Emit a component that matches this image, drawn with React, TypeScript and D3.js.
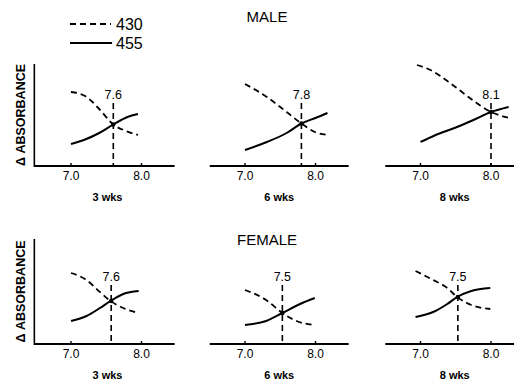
import React from 'react';
import * as d3 from 'd3';

const rowTitles = ['MALE', 'FEMALE'];
const ageLabels = ['3 wks', '6 wks', '8 wks'];
const seriesNames = ['430', '455'];
const tickValues = [7.0, 8.0];
const tickLabels = ['7.0', '8.0'];
const yAxisLabel = 'Δ ABSORBANCE';

// [pH, Δ absorbance (arbitrary units)]
const male3_430 = [[7.0, 0.74], [7.2, 0.70], [7.4, 0.57], [7.6, 0.415], [7.78, 0.35], [7.95, 0.31]];
const male3_455 = [[7.0, 0.22], [7.2, 0.265], [7.4, 0.33], [7.6, 0.415], [7.8, 0.49], [7.95, 0.52]];
const male6_430 = [[7.0, 0.82], [7.31, 0.69], [7.59, 0.54], [7.8, 0.425], [7.99, 0.34], [8.17, 0.31]];
const male6_455 = [[7.0, 0.16], [7.31, 0.24], [7.59, 0.33], [7.8, 0.425], [8.0, 0.48], [8.17, 0.53]];
const male8_430 = [[6.95, 1.01], [7.14, 0.96], [7.42, 0.83], [7.7, 0.68], [8.0, 0.54], [8.27, 0.48]];
const male8_455 = [[7.0, 0.24], [7.2, 0.305], [7.5, 0.385], [7.75, 0.46], [8.0, 0.54], [8.25, 0.59]];
const female3_430 = [[7.0, 0.71], [7.22, 0.64], [7.41, 0.52], [7.56, 0.43], [7.74, 0.36], [7.96, 0.31]];
const female3_455 = [[7.0, 0.23], [7.22, 0.28], [7.41, 0.36], [7.56, 0.43], [7.74, 0.50], [7.96, 0.53]];
const female6_430 = [[7.0, 0.54], [7.3, 0.44], [7.53, 0.31], [7.73, 0.23], [7.97, 0.19]];
const female6_455 = [[7.0, 0.19], [7.3, 0.23], [7.53, 0.31], [7.78, 0.40], [7.99, 0.46]];
const female8_430 = [[6.93, 0.73], [7.18, 0.64], [7.38, 0.56], [7.52, 0.47], [7.72, 0.39], [7.99, 0.35]];
const female8_455 = [[6.93, 0.27], [7.18, 0.32], [7.38, 0.40], [7.52, 0.47], [7.72, 0.53], [7.99, 0.56]];

const curves430 = [[male3_430, male6_430, male8_430], [female3_430, female6_430, female8_430]];
const curves455 = [[male3_455, male6_455, male8_455], [female3_455, female6_455, female8_455]];
const crossPH = [[7.6, 7.8, 8.0], [7.57, 7.53, 7.53]];
const crossValue = [[0.415, 0.425, 0.54], [0.43, 0.31, 0.47]];
const crossLabels = [['7.6', '7.8', '8.1'], ['7.6', '7.5', '7.5']];

const W = 514;
const H = 381;
const rowAxisY = [166, 344];
const rowAxisTop = [64, 239];
const rowTitleY = [22, 245];
const rowLabelOffset = [67, 63];
const panelX7 = [71, 245, 420.5];
const pxPerUnit = 70.5;
const pxPerAbs = 100;
const font = '"Liberation Sans", Arial, Helvetica, sans-serif';
const dash = '6,4';

export default function App() {
  const line = (xs: d3.ScaleLinear<number, number>, ys: d3.ScaleLinear<number, number>) =>
    d3.line<number[]>().x(d => xs(d[0])).y(d => ys(d[1])).curve(d3.curveMonotoneX);

  const panels: React.ReactNode[] = [];
  rowTitles.forEach((title, r) => {
    const axisY = rowAxisY[r];
    const ys = d3.scaleLinear().domain([0, 1]).range([axisY, axisY - pxPerAbs]);
    ageLabels.forEach((age, c) => {
      const x7 = panelX7[c];
      const xs = d3.scaleLinear().domain([7.0, 8.0]).range([x7, x7 + pxPerUnit]);
      const gen = line(xs, ys);
      const axisStart = c === 0 ? xs(6.48) : xs(6.5);
      const axisEnd = xs(8.47);
      const cx = xs(crossPH[r][c]);
      const labelY = axisY - rowLabelOffset[r];
      panels.push(
        <g key={`${r}-${c}`}>
          <line x1={axisStart} x2={axisEnd} y1={axisY} y2={axisY} stroke="#000" strokeWidth={2} />
          {c === 0 && (
            <line x1={axisStart} x2={axisStart} y1={rowAxisTop[r]} y2={axisY + 1} stroke="#000" strokeWidth={1.6} />
          )}
          {tickValues.map((t, i) => (
            <g key={i}>
              <line x1={xs(t)} x2={xs(t)} y1={axisY} y2={axisY - 3} stroke="#000" strokeWidth={1.4} />
              <text x={xs(t)} y={axisY + 14} textAnchor="middle" fontSize={12} fontFamily={font} fill="#000">
                {tickLabels[i]}
              </text>
            </g>
          ))}
          <text x={(axisStart + xs(8.47)) / 2 + (c === 0 ? 3 : 0)} y={axisY + 35} textAnchor="middle" fontSize={11} fontWeight="bold" fontFamily={font} fill="#000">
            {age}
          </text>
          <path d={gen(curves430[r][c] as number[][]) || ''} fill="none" stroke="#000" strokeWidth={1.8} strokeDasharray={dash} />
          <path d={gen(curves455[r][c] as number[][]) || ''} fill="none" stroke="#000" strokeWidth={2} />
          <line x1={cx} x2={cx} y1={labelY + 4} y2={axisY} stroke="#000" strokeWidth={1.6} strokeDasharray={dash} />
          <circle cx={cx} cy={ys(crossValue[r][c])} r={2.2} fill="#000" />
          <text x={cx} y={labelY} textAnchor="middle" fontSize={12.5} fontFamily={font} fill="#000">
            {crossLabels[r][c]}
          </text>
        </g>
      );
    });
  });

  return (
    <svg width={W} height={H} style={{ position: 'absolute', left: 0, top: 0, background: '#fff' }}>
      <rect width={W} height={H} fill="#fff" />
      {/* legend */}
      <line x1={70} x2={111} y1={24} y2={24} stroke="#000" strokeWidth={1.8} strokeDasharray={dash} />
      <text x={116} y={30} fontSize={16} fontFamily={font} fill="#000">{seriesNames[0]}</text>
      <line x1={70} x2={112} y1={43} y2={43} stroke="#000" strokeWidth={2} />
      <text x={116} y={49} fontSize={16} fontFamily={font} fill="#000">{seriesNames[1]}</text>
      {rowTitles.map((t, r) => (
        <text key={t} x={267} y={rowTitleY[r]} textAnchor="middle" fontSize={15} fontFamily={font} fill="#000">
          {t}
        </text>
      ))}
      {rowTitles.map((t, r) => (
        <text
          key={`yl-${r}`}
          transform={`translate(25, ${(rowAxisTop[r] + rowAxisY[r]) / 2}) rotate(-90)`}
          textAnchor="middle"
          fontSize={12.5}
          fontWeight="bold"
          fontFamily={font}
          fill="#000"
        >
          {yAxisLabel}
        </text>
      ))}
      {panels}
    </svg>
  );
}
